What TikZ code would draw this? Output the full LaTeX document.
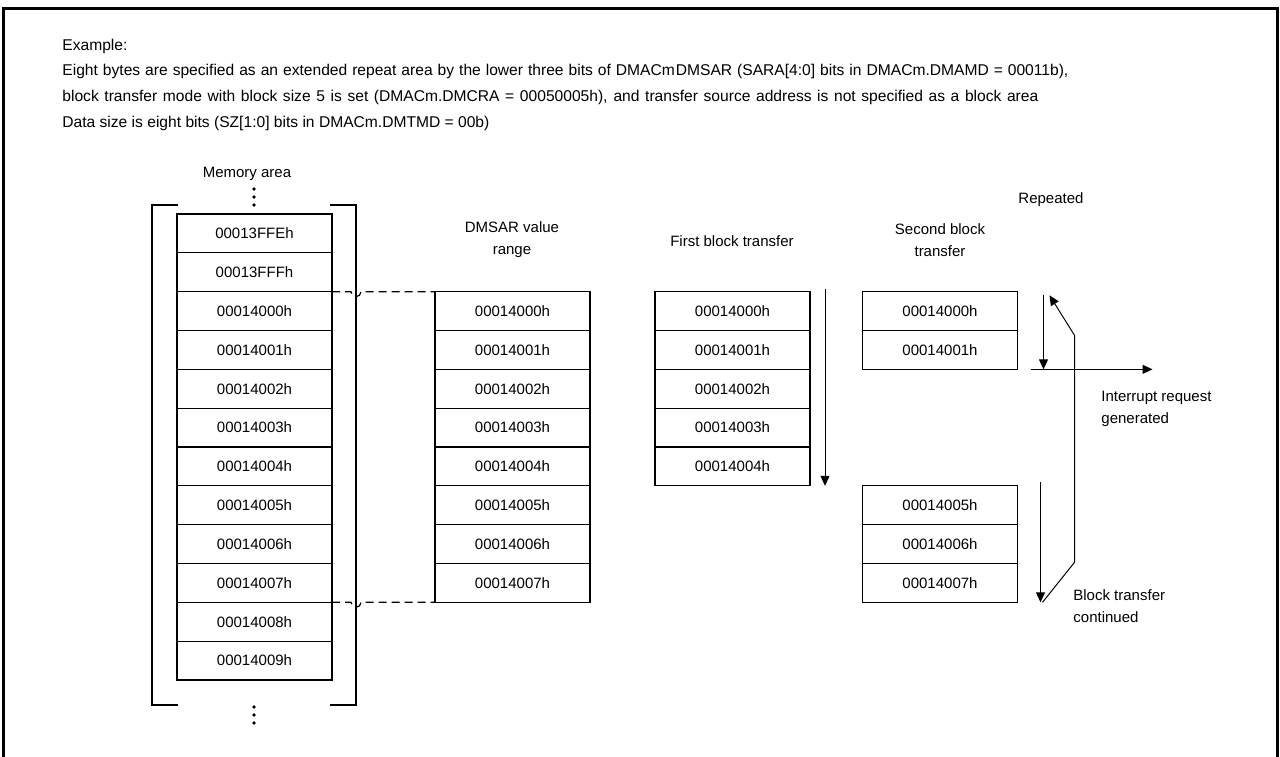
\documentclass[tikz,border=0pt]{standalone}
\usepackage{fontspec}
\setmainfont{Liberation Sans}
\usetikzlibrary{arrows.meta,positioning}

\begin{document}
\begin{tikzpicture}[
x=0.5pt, y=-0.5pt,
every node/.style={font=\fontsize{7.5}{11}\selectfont},
cell/.style={draw, line width=0.6pt, minimum width=77.5pt, minimum height=19.4pt, inner sep=0pt, outer sep=0pt},
bracket/.style={line width=1.3pt},
arrow/.style={-{Triangle[length=5pt, width=4.5pt]}, line width=0.5pt},
link/.style={line width=0.6pt, dash pattern=on 4pt off 2.5pt},
label/.style={align=center, inner sep=0pt},
note/.style={align=left, inner sep=0pt, anchor=north west},
dot/.style={fill=black}
]
\useasboundingbox (0,0) rectangle (1280,756);
\draw[line width=1.5pt] (3,8) rectangle (1277,770);

% description
\node[note, font=\fontsize{7.8}{12.85}\selectfont] (desc) at (62,38.5) {Example:\\
\hbox to 503pt{Eight bytes are specified as an extended repeat area by the lower three bits of DMACm\kern0.5ptDMSAR (SARA[4:0] bits in DMACm.DMAMD = 00011b),}\\
\hbox to 488pt{block transfer mode with block size 5 is set (DMACm.DMCRA = 00050005h), and transfer source address is not specified as a block area}\\
Data size is eight bits (SZ[1:0] bits in DMACm.DMTMD = 00b)};

% memory area
\node[label] (memlbl) at (247,174) {Memory area};
\foreach \addr [count=\i] in {00013FFE,00013FFF,00014000,00014001,00014002,00014003,00014004,00014005,00014006,00014007,00014008,00014009}
  \node[cell] (mem\i) at (254.5,{233.4+38.83*(\i-1)}) {\addr h};
\draw[bracket] (178,205) -- (152,205) -- (152,705) -- (178,705);
\draw[bracket] (330,205) -- (356,205) -- (356,705) -- (330,705);
\foreach \y in {189,197,205,707,715,723}
  \fill[dot] (254,\y) circle[radius=0.95pt];

% DMSAR value range
\node[label] (sarlbl) at (512,240) {DMSAR value\\range};
\foreach \k in {0,...,7}
  \node[cell] (sar\k) at (512.5,{311.1+38.83*\k}) {0001400\k h};

% first block transfer
\node[label] (fstlbl) at (732,241) {First block transfer};
\foreach \k in {0,...,4}
  \node[cell] (fst\k) at (732.5,{311.1+38.83*\k}) {0001400\k h};

% second block transfer
\node[label] (sndlbl) at (940,240) {Second block\\transfer};
\foreach \k in {0,1,5,6,7}
  \node[cell] (snd\k) at (940,{311.1+38.83*\k}) {0001400\k h};

\node[label] (replbl) at (1051,200) {Repeated};
\node[note] (irqlbl) at (1101,391) {Interrupt request\\generated};
\node[note] (contlbl) at (1073,589) {Block transfer\\continued};

% dashed links with hop over bracket
\draw[link] (mem3.north east) -- (351,291.7) arc[start angle=180, end angle=0, radius=5] -- (sar0.north west);
\draw[link] (mem10.south east) -- (351,602.3) arc[start angle=180, end angle=0, radius=5] -- (sar7.south west);

% arrows
\draw[arrow] ([xshift=7.5pt,yshift=1.5pt]fst0.north east) -- ([xshift=7.5pt]fst4.south east);
\draw[arrow] ([xshift=13pt,yshift=-1.5pt]snd0.north east) -- ([xshift=13pt]snd1.south east);
\coordinate (irq) at ([xshift=67.5pt]snd1.south east);
\draw[arrow] ([xshift=6.5pt]snd1.south east) -- (irq);
\draw[arrow] ([xshift=11.5pt,yshift=2pt]snd5.north east) -- ([xshift=11.5pt]snd7.south east);
\draw[arrow] ([xshift=12.5pt]snd7.south east) -- ++(32,-40) -- ++(0,-227) -- ++(-25,-40);
\end{tikzpicture}
\end{document}
